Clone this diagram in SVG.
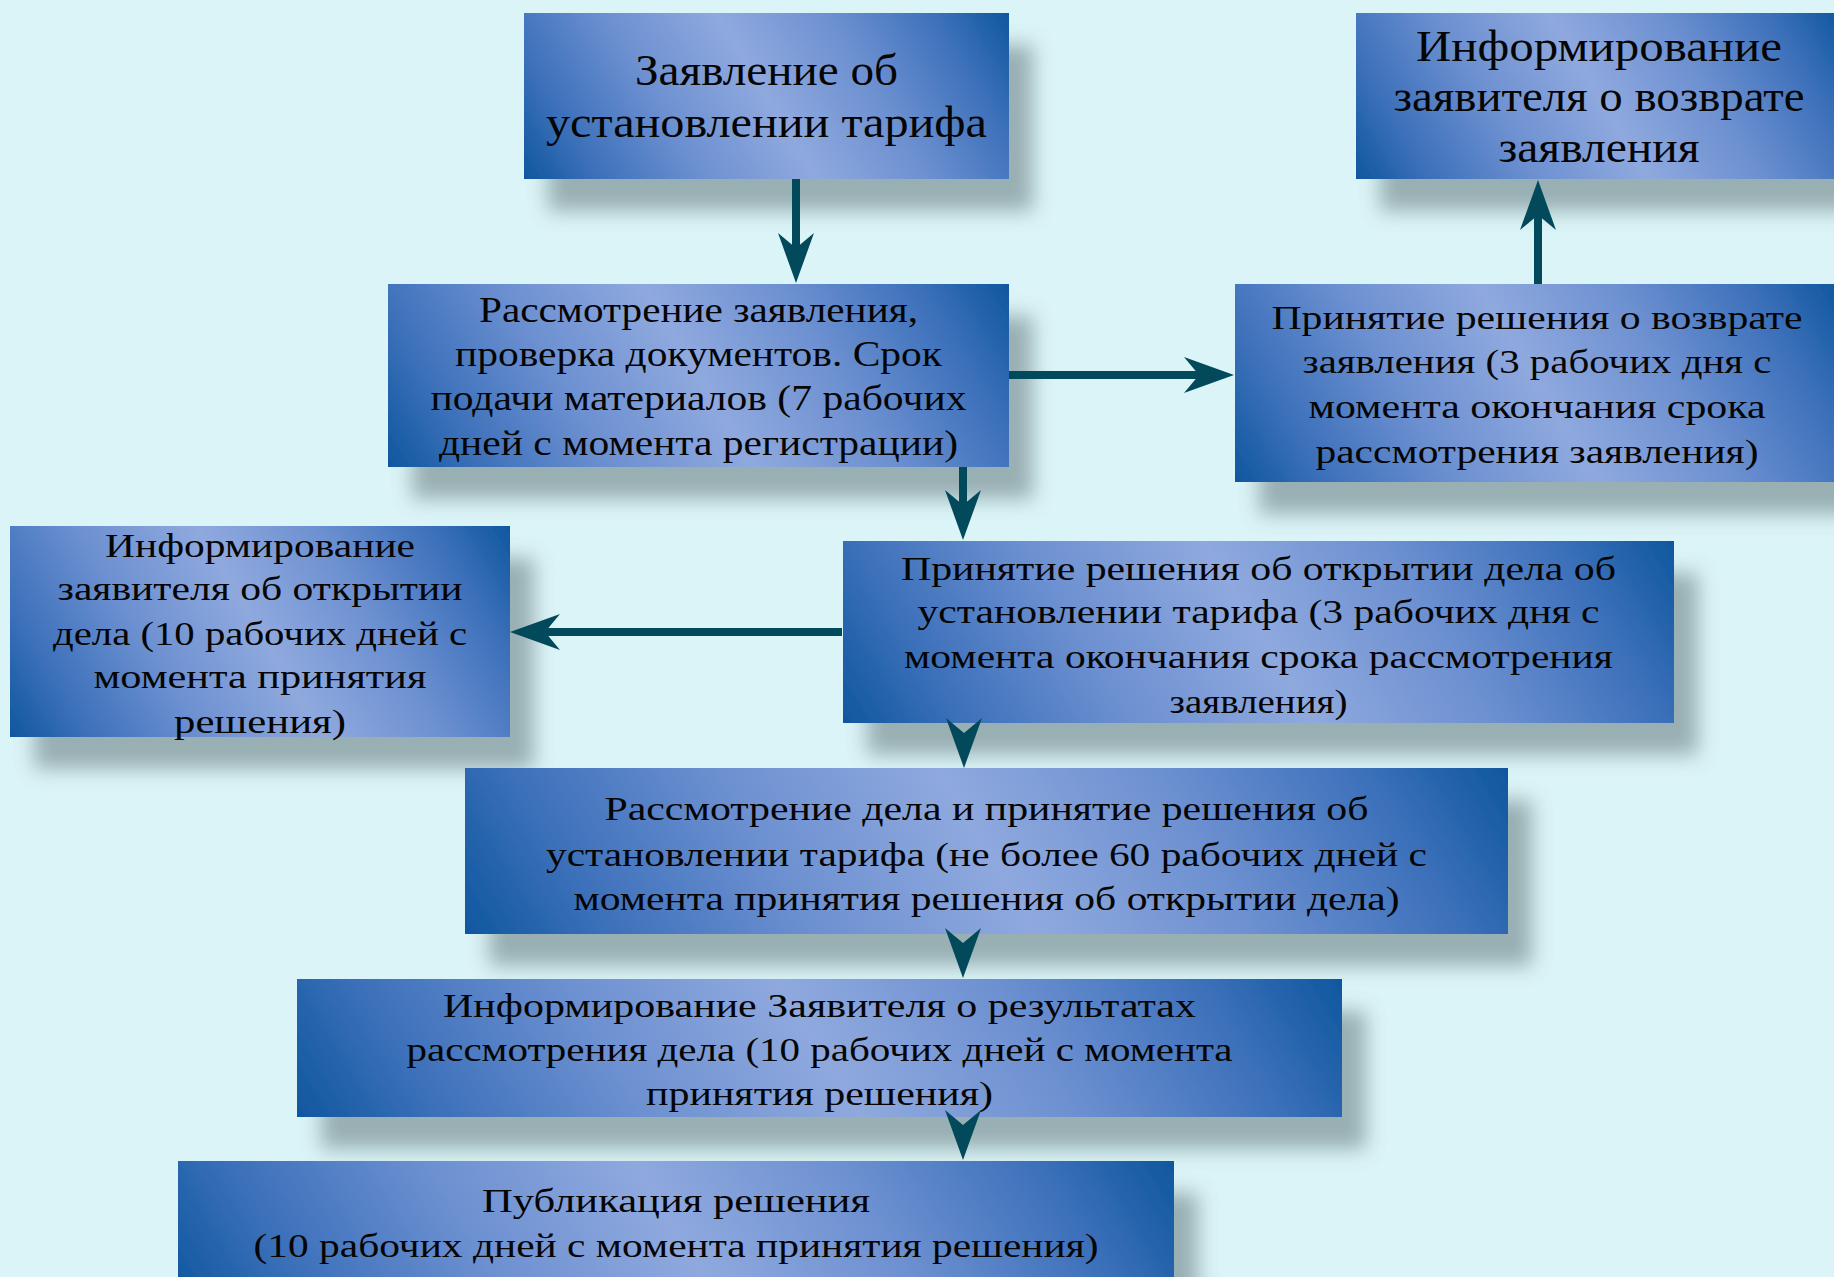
<svg xmlns="http://www.w3.org/2000/svg" xmlns:xlink="http://www.w3.org/1999/xlink" width="1834" height="1277" viewBox="0 0 1834 1277">
<style>
.bg{fill:#dbf4f7}
.box{filter:url(#sh)}
.t{font-family:"Liberation Serif","Times New Roman",serif;fill:#050505;text-anchor:middle}
.s44{font-size:44px}.s36{font-size:36px}.s34{font-size:34px}.s33{font-size:33px}
.ln{stroke:#024a5b;stroke-width:8;fill:none}
.hd{fill:#024a5b}
</style>
<defs>
<linearGradient id="g">
<stop offset="0" stop-color="#0f579f"/>
<stop offset="0.12" stop-color="#3a6fb9"/>
<stop offset="0.3" stop-color="#6b8fd0"/>
<stop offset="0.5" stop-color="#8fa9de"/>
<stop offset="0.7" stop-color="#6b8fd0"/>
<stop offset="0.88" stop-color="#3a6fb9"/>
<stop offset="1" stop-color="#0f579f"/>
</linearGradient>
<linearGradient id="g1" href="#g" xlink:href="#g" gradientUnits="userSpaceOnUse" x1="551.8" y1="224.8" x2="981.2" y2="-32.8"/>
<linearGradient id="g2" href="#g" xlink:href="#g" gradientUnits="userSpaceOnUse" x1="1383.9" y1="225" x2="1814.1" y2="-33"/>
<linearGradient id="g3" href="#g" xlink:href="#g" gradientUnits="userSpaceOnUse" x1="430.2" y1="536.4" x2="966.8" y2="214.6"/>
<linearGradient id="g4" href="#g" xlink:href="#g" gradientUnits="userSpaceOnUse" x1="1271.6" y1="542.2" x2="1802.4" y2="223.8"/>
<linearGradient id="g5" href="#g" xlink:href="#g" gradientUnits="userSpaceOnUse" x1="29.9" y1="769.5" x2="490.1" y2="493.5"/>
<linearGradient id="g6" href="#g" xlink:href="#g" gradientUnits="userSpaceOnUse" x1="913.2" y1="839.1" x2="1603.8" y2="424.9"/>
<linearGradient id="g7" href="#g" xlink:href="#g" gradientUnits="userSpaceOnUse" x1="566.9" y1="1102.7" x2="1406.1" y2="599.3"/>
<linearGradient id="g8" href="#g" xlink:href="#g" gradientUnits="userSpaceOnUse" x1="405.3" y1="1296.4" x2="1233.7" y2="799.6"/>
<linearGradient id="g9" href="#g" xlink:href="#g" gradientUnits="userSpaceOnUse" x1="279.4" y1="1468.9" x2="1072.6" y2="993.1"/>
<filter id="sh" x="-10%" y="-20%" width="135%" height="180%">
<feGaussianBlur in="SourceAlpha" stdDeviation="10"/>
<feOffset dx="24" dy="32" result="b"/>
<feFlood flood-color="#566b70" flood-opacity="0.5"/>
<feComposite in2="b" operator="in"/>
<feMerge><feMergeNode/><feMergeNode in="SourceGraphic"/></feMerge>
</filter>
<path id="ah" class="hd" d="M0,0 L-18,-50 L0,-35 L18,-50 Z"/>
</defs>
<rect class="bg" x="0" y="0" width="1834" height="1277"/>

<g id="n1">
<rect class="box" fill="url(#g1)" x="524" y="13" width="485" height="166"/>
<text class="t s44" x="766.5" y="85" textLength="263" lengthAdjust="spacingAndGlyphs">Заявление об</text>
<text class="t s44" x="766.5" y="137" textLength="441" lengthAdjust="spacingAndGlyphs">установлении тарифа</text>
</g>

<g id="n2">
<rect class="box" fill="url(#g2)" x="1356" y="13" width="486" height="166"/>
<text class="t s44" x="1599" y="61" textLength="366" lengthAdjust="spacingAndGlyphs">Информирование</text>
<text class="t s44" x="1599" y="111" textLength="411" lengthAdjust="spacingAndGlyphs">заявителя о возврате</text>
<text class="t s44" x="1599" y="162" textLength="201" lengthAdjust="spacingAndGlyphs">заявления</text>
</g>

<g id="n3">
<rect class="box" fill="url(#g3)" x="388" y="284" width="621" height="183"/>
<text class="t s36" x="698.5" y="322" textLength="439" lengthAdjust="spacingAndGlyphs">Рассмотрение заявления,</text>
<text class="t s36" x="698.5" y="366" textLength="487" lengthAdjust="spacingAndGlyphs">проверка документов. Срок</text>
<text class="t s36" x="698.5" y="410" textLength="536" lengthAdjust="spacingAndGlyphs">подачи материалов (7 рабочих</text>
<text class="t s36" x="698.5" y="455" textLength="519" lengthAdjust="spacingAndGlyphs">дней с момента регистрации)</text>
</g>

<g id="n4">
<rect class="box" fill="url(#g4)" x="1235" y="284" width="604" height="198"/>
<text class="t s33" x="1537" y="329" textLength="531" lengthAdjust="spacingAndGlyphs">Принятие решения о возврате</text>
<text class="t s33" x="1537" y="373" textLength="469" lengthAdjust="spacingAndGlyphs">заявления (3 рабочих дня с</text>
<text class="t s33" x="1537" y="418" textLength="457" lengthAdjust="spacingAndGlyphs">момента окончания срока</text>
<text class="t s33" x="1537" y="463" textLength="443" lengthAdjust="spacingAndGlyphs">рассмотрения заявления)</text>
</g>

<g id="n5">
<rect class="box" fill="url(#g5)" x="10" y="526" width="500" height="211"/>
<text class="t s34" x="260" y="557" textLength="310" lengthAdjust="spacingAndGlyphs">Информирование</text>
<text class="t s34" x="260" y="600" textLength="405" lengthAdjust="spacingAndGlyphs">заявителя об открытии</text>
<text class="t s34" x="260" y="645" textLength="414" lengthAdjust="spacingAndGlyphs">дела (10 рабочих дней с</text>
<text class="t s34" x="260" y="688" textLength="333" lengthAdjust="spacingAndGlyphs">момента принятия</text>
<text class="t s34" x="260" y="733" textLength="172" lengthAdjust="spacingAndGlyphs">решения)</text>
</g>

<g id="n6">
<rect class="box" fill="url(#g6)" x="843" y="541" width="831" height="182"/>
<text class="t s33" x="1258.5" y="580" textLength="715" lengthAdjust="spacingAndGlyphs">Принятие решения об открытии дела об</text>
<text class="t s33" x="1258.5" y="623" textLength="682" lengthAdjust="spacingAndGlyphs">установлении тарифа (3 рабочих дня с</text>
<text class="t s33" x="1258.5" y="668" textLength="709" lengthAdjust="spacingAndGlyphs">момента окончания срока рассмотрения</text>
<text class="t s33" x="1258.5" y="713" textLength="178" lengthAdjust="spacingAndGlyphs">заявления)</text>
</g>

<g id="n7">
<rect class="box" fill="url(#g7)" x="465" y="768" width="1043" height="166"/>
<text class="t s33" x="986.5" y="820" textLength="764" lengthAdjust="spacingAndGlyphs">Рассмотрение дела и принятие решения об</text>
<text class="t s33" x="986.5" y="866" textLength="881" lengthAdjust="spacingAndGlyphs">установлении тарифа (не более 60 рабочих дней с</text>
<text class="t s33" x="986.5" y="910" textLength="826" lengthAdjust="spacingAndGlyphs">момента принятия решения об открытии дела)</text>
</g>

<g id="n8">
<rect class="box" fill="url(#g8)" x="297" y="979" width="1045" height="138"/>
<text class="t s33" x="819.5" y="1017" textLength="753" lengthAdjust="spacingAndGlyphs">Информирование Заявителя о результатах</text>
<text class="t s33" x="819.5" y="1061" textLength="826" lengthAdjust="spacingAndGlyphs">рассмотрения дела (10 рабочих дней с момента</text>
<text class="t s33" x="819.5" y="1105" textLength="347" lengthAdjust="spacingAndGlyphs">принятия решения)</text>
</g>

<g id="n9">
<rect class="box" fill="url(#g9)" x="178" y="1161" width="996" height="140"/>
<text class="t s33" x="676" y="1212" textLength="388" lengthAdjust="spacingAndGlyphs">Публикация решения</text>
<text class="t s33" x="676" y="1257" textLength="845" lengthAdjust="spacingAndGlyphs">(10 рабочих дней с момента принятия решения)</text>
</g>

<g id="connectors">
<line class="ln" x1="796" y1="179" x2="796" y2="252"/>
<use xlink:href="#ah" href="#ah" transform="translate(796,283)"/>
<line class="ln" x1="1538" y1="284" x2="1538" y2="212"/>
<use xlink:href="#ah" href="#ah" transform="translate(1538,180) rotate(180)"/>
<line class="ln" x1="1009" y1="375" x2="1203" y2="375"/>
<use xlink:href="#ah" href="#ah" transform="translate(1234,375) rotate(-90)"/>
<line class="ln" x1="963" y1="467" x2="963" y2="509"/>
<use xlink:href="#ah" href="#ah" transform="translate(963,540)"/>
<line class="ln" x1="842" y1="632" x2="542" y2="632"/>
<use xlink:href="#ah" href="#ah" transform="translate(510,632) rotate(90)"/>
<use xlink:href="#ah" href="#ah" transform="translate(964,768)"/>
<use xlink:href="#ah" href="#ah" transform="translate(963,978)"/>
<use xlink:href="#ah" href="#ah" transform="translate(963,1160)"/>
</g>
</svg>
